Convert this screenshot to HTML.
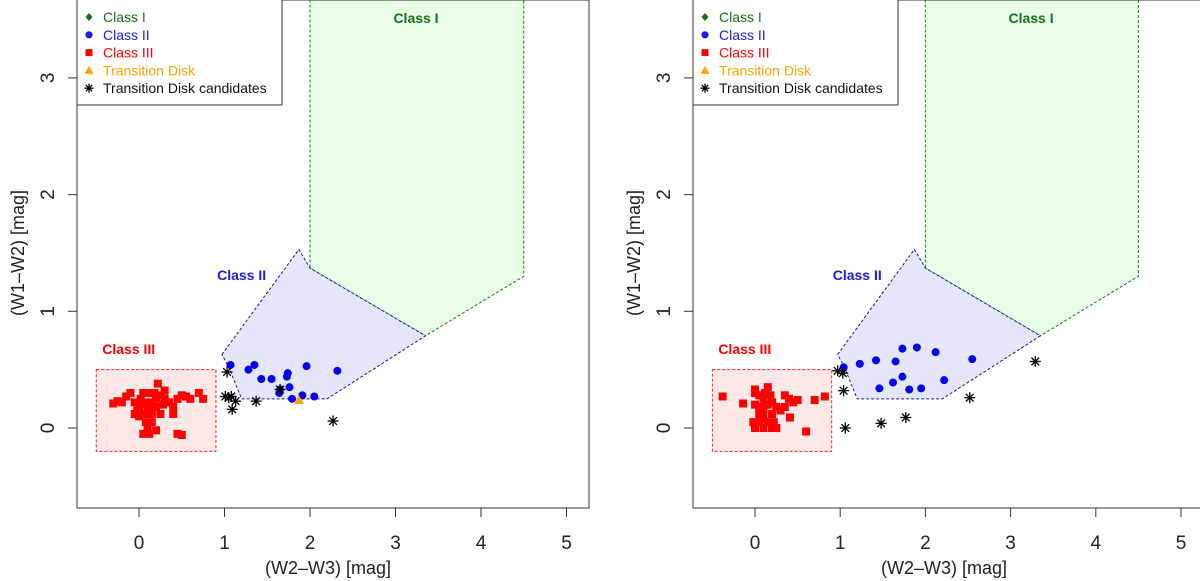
<!DOCTYPE html>
<html><head><meta charset="utf-8"><style>
body{margin:0;background:#fff;}
svg{display:block;font-family:"Liberation Sans",sans-serif;}
</style></head><body>
<svg id="chart" width="1200" height="581" viewBox="0 0 1200 581"></svg>
<script>
const xTicks=[0,1,2,3,4,5];
const yTicks=[0,1,2,3];
const regionClassI=[[2.0,3.8],[2.0,1.37],[3.35,0.79],[4.5,1.3],[4.5,3.8]];
const regionClassII=[[0.97,0.63],[1.87,1.53],[2.0,1.37],[3.35,0.79],[2.2,0.25],[1.2,0.25],[1.05,0.52]];
const regionClassIII=[[-0.5,0.5],[0.9,0.5],[0.9,-0.2],[-0.5,-0.2]];
const leftClassII=[[1.07,0.54],[1.35,0.54],[1.28,0.50],[1.43,0.42],[1.55,0.42],[1.74,0.47],[1.73,0.44],[1.96,0.53],[2.32,0.49],[1.65,0.33],[1.76,0.35],[1.64,0.30],[1.79,0.25],[1.91,0.28],[2.05,0.27]];
const leftClassIII=[[-0.3,0.21],[-0.25,0.23],[-0.2,0.22],[-0.15,0.27],[-0.1,0.3],[-0.05,0.22],[0,0.18],[0.02,0.25],[0.05,0.2],[0.07,0.12],[0.08,0.05],[0.1,0.0],[0.12,-0.05],[0.1,0.15],[0.15,0.22],[0.2,0.25],[0.18,0.3],[0.22,0.38],[0.25,0.28],[0.28,0.2],[0.3,0.25],[0.35,0.22],[0.4,0.18],[0.45,0.25],[0.5,0.28],[0.55,0.27],[0.6,0.25],[0.7,0.3],[0.75,0.25],[0.15,0.05],[0.2,-0.02],[0.05,-0.05],[0.0,0.1],[0.12,0.18],[0.25,0.12],[0.4,0.12],[0.45,-0.05],[0.5,-0.06],[-0.05,0.12],[0.05,0.3],[0.1,0.3],[0.3,0.32],[-0.02,0.15],[0.08,0.22],[0.15,0.12],[0.2,0.18]];
const leftTD=[[1.87,0.24]];
const leftCand=[[1.03,0.48],[1.01,0.27],[1.08,0.27],[1.13,0.23],[1.09,0.16],[1.37,0.23],[1.65,0.33],[2.27,0.06],[1.05,0.26]];
const rightClassII=[[1.04,0.52],[1.23,0.55],[1.42,0.58],[1.65,0.57],[1.73,0.68],[1.90,0.69],[2.12,0.65],[2.55,0.59],[1.46,0.34],[1.62,0.39],[1.73,0.44],[1.81,0.33],[1.95,0.34],[2.22,0.41]];
const rightClassIII=[[-0.38,0.27],[-0.14,0.21],[0.82,0.27],[0.70,0.24],[0.60,-0.03],[0.41,0.09],[0.0,0.3],[0.05,0.28],[0.1,0.25],[0.0,0.2],[0.05,0.18],[0.1,0.15],[0.15,0.2],[0.2,0.22],[0.25,0.18],[0.2,0.12],[0.1,0.08],[0.05,0.05],[0.0,0.0],[0.1,0.0],[0.2,0.0],[0.25,0.0],[0.15,0.05],[0.05,0.12],[0.12,0.3],[0.35,0.28],[0.4,0.25],[0.45,0.22],[0.5,0.24],[0.35,0.18],[0.3,0.15],[0.15,0.35],[0.0,0.33],[0.08,0.1],[0.18,0.28],[0.22,0.05],[-0.02,0.05],[0.12,0.2]];
const rightTD=[];
const rightCand=[[0.97,0.49],[1.03,0.47],[1.04,0.32],[1.06,0.0],[1.48,0.04],[1.77,0.09],[2.52,0.26],[3.29,0.57]];
const legendLabels=["Class I","Class II","Class III","Transition Disk","Transition Disk candidates"];

const NS="http://www.w3.org/2000/svg";
const svg=document.getElementById('chart');
function mk(tag,attrs,parent){const e=document.createElementNS(NS,tag);for(const k in attrs)e.setAttribute(k,attrs[k]);(parent||svg).appendChild(e);return e;}

function panel(px,x0,xu,cls2,cls3,td,cand,tag){
  const g=mk('g',{});
  
  
  const y0=428,yu=116.7;
  const X=v=>x0+v*xu, Y=v=>y0-v*yu;
  const left=px, right=px+512, top=0, bottom=508;
  const clip=mk('clipPath',{id:'c'+tag},g);mk('rect',{x:left,y:top,width:right-left,height:bottom-top},clip);
  const pg=mk('g',{'clip-path':'url(#c'+tag+')'},g);
  const poly=(pts,fill,stroke,name)=>{const p=mk('polygon',{points:pts.map(q=>X(q[0])+','+Y(q[1])).join(' '),fill:fill,stroke:stroke,'stroke-dasharray':'3,2','stroke-width':1},pg);};
  poly(regionClassI,'#e8fce8','#1a7a1a',tag+'-class-i-region');
  poly(regionClassII,'#e6e6fb','#1a1a8a',tag+'-class-ii-region');
  poly(regionClassIII,'#fde8e8','#ff2020',tag+'-class-iii-region');
  const lab=(t,x,y,c,name)=>{const e=mk('text',{x:x,y:y,fill:c,'font-size':14,'font-weight':'bold','text-anchor':'middle'},g);e.textContent=t;};
  lab('Class I',X(3.24),23,'#1a6e1a',tag+'-class-i-label');
  lab('Class II',X(1.2),280,'#1a1aee',tag+'-class-ii-label');
  lab('Class III',X(-0.12),354,'#ff0000',tag+'-class-iii-label');
  cls3.forEach(d=>{const e=mk('rect',{x:X(d[0])-4,y:Y(d[1])-4,width:8,height:8,fill:'#ff0000'},pg);});
  cls2.forEach(d=>{const e=mk('circle',{cx:X(d[0]),cy:Y(d[1]),r:4,fill:'#0000ee'},pg);});
  td.forEach(d=>{const x=X(d[0]),y=Y(d[1]);const e=mk('polygon',{points:`${x},${y-5} ${x-5},${y+4} ${x+5},${y+4}`,fill:'#ffa500'},pg);});
  const star=(x,y,s,parent)=>{const sg=mk('g',{stroke:'#000','stroke-width':1.3},parent);[[0,1],[1,0],[0.7,0.7],[0.7,-0.7]].forEach(a=>mk('line',{x1:x-a[0]*s,y1:y-a[1]*s,x2:x+a[0]*s,y2:y+a[1]*s},sg));return sg;};
  cand.forEach(d=>{const e=star(X(d[0]),Y(d[1]),5.5,pg);});
  mk('rect',{x:left,y:top,width:right-left,height:bottom-top,fill:'none',stroke:'#333','stroke-width':1},g);
  xTicks.forEach(t=>{mk('line',{x1:X(t),x2:X(t),y1:bottom,y2:bottom+9,stroke:'#333'},g);const e=mk('text',{x:X(t),y:549,'font-size':19,'text-anchor':'middle',fill:'#222'},g);e.textContent=t;});
  yTicks.forEach(t=>{mk('line',{x1:left-9,x2:left,y1:Y(t),y2:Y(t),stroke:'#333'},g);const e=mk('text',{x:0,y:0,'font-size':19,'text-anchor':'middle',fill:'#222',transform:`translate(${left-23},${Y(t)}) rotate(-90)`},g);e.textContent=t;});
  const xt=mk('text',{x:(left+right)/2-5,y:574,'font-size':18,'text-anchor':'middle',fill:'#222'},g);xt.textContent='(W2\u2013W3) [mag]';
  const yt=mk('text',{x:0,y:0,'font-size':18,'text-anchor':'middle',fill:'#222',transform:`translate(${left-53},${Y(1.5)}) rotate(-90)`},g);yt.textContent='(W1\u2013W2) [mag]';
  const lg=mk('g',{},g);
  mk('rect',{x:left,y:-1,width:205,height:106,fill:'#fff',stroke:'#333'},lg);
  const cols=['#1a6e1a','#1a1aee','#ff0000','#ffa500','#111'];
  legendLabels.forEach((l,i)=>{const y=17+i*17.8,sx=left+12;
    const eg=mk('g',{},lg);
    if(i==0)mk('polygon',{points:`${sx},${y-4} ${sx+3.5},${y} ${sx},${y+4} ${sx-3.5},${y}`,fill:cols[0]},eg);
    if(i==1)mk('circle',{cx:sx,cy:y,r:3.6,fill:cols[1]},eg);
    if(i==2)mk('rect',{x:sx-3.5,y:y-3.5,width:7,height:7,fill:cols[2]},eg);
    if(i==3)mk('polygon',{points:`${sx},${y-4.5} ${sx-4.5},${y+3.5} ${sx+4.5},${y+3.5}`,fill:cols[3]},eg);
    if(i==4)star(sx,y,4.5,eg);
    const t=mk('text',{x:left+26,y:y+5,'font-size':14,fill:cols[i]},eg);t.textContent=l;});
}
panel(77,139,85.5,leftClassII,leftClassIII,leftTD,leftCand,'left');
panel(693,755,85.2,rightClassII,rightClassIII,rightTD,rightCand,'right');
</script>
</body></html>
